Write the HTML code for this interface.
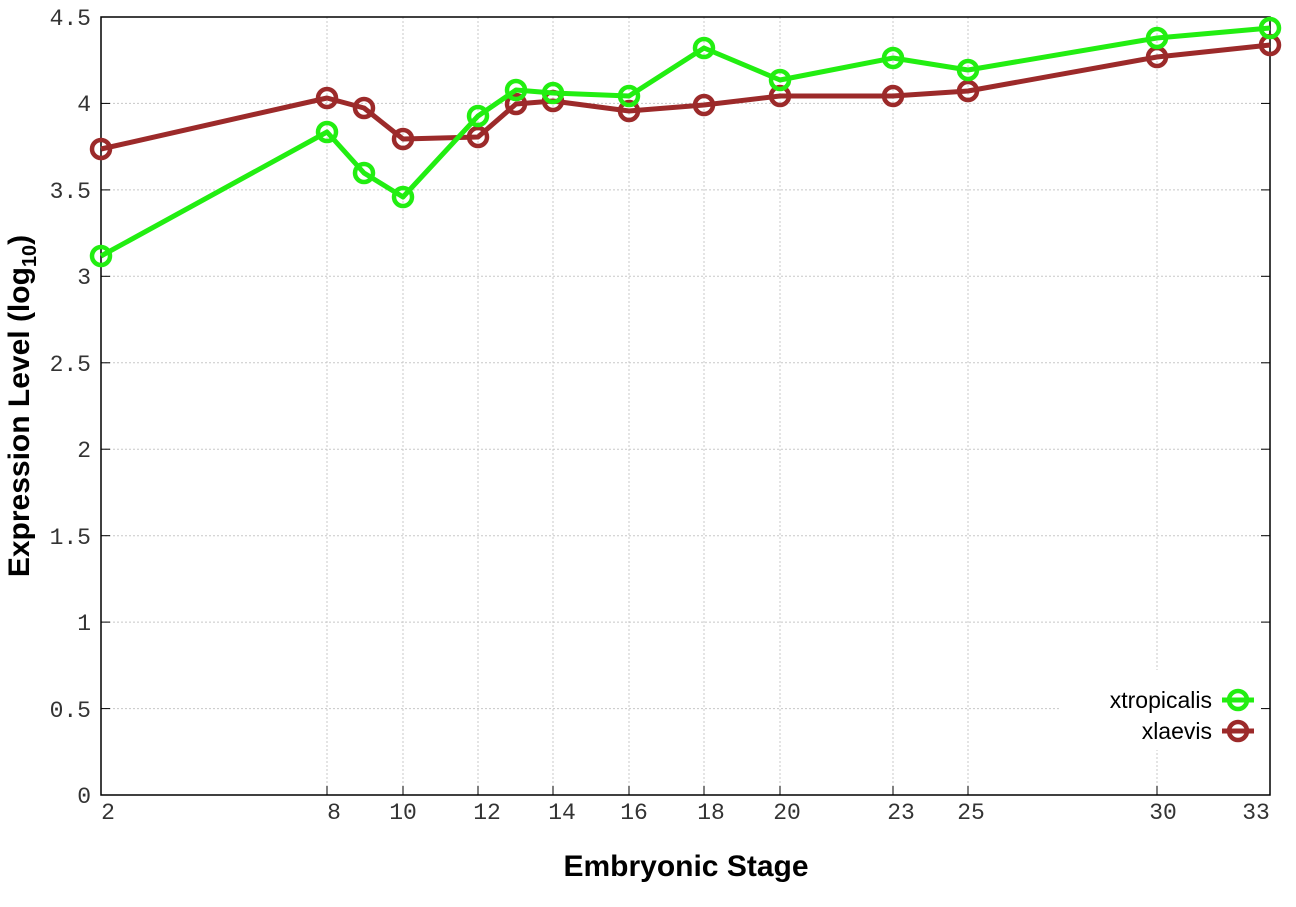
<!DOCTYPE html>
<html><head><style>
body{margin:0;background:#fff}
svg{display:block}
.t{font-family:"Liberation Mono",monospace;font-size:23px;fill:#333}
</style></head><body>
<svg width="1296" height="907" xmlns="http://www.w3.org/2000/svg">
<rect width="1296" height="907" fill="#fff"/>
<g stroke="#c8c8c8" stroke-width="1" stroke-dasharray="2,2">
<line x1="101" x2="1270" y1="708.6" y2="708.6"/><line x1="101" x2="1270" y1="622.1" y2="622.1"/>
<line x1="101" x2="1270" y1="535.7" y2="535.7"/><line x1="101" x2="1270" y1="449.2" y2="449.2"/>
<line x1="101" x2="1270" y1="362.8" y2="362.8"/><line x1="101" x2="1270" y1="276.3" y2="276.3"/>
<line x1="101" x2="1270" y1="189.9" y2="189.9"/><line x1="101" x2="1270" y1="103.4" y2="103.4"/>
<line y1="17" y2="795" x1="327" x2="327"/><line y1="17" y2="795" x1="403" x2="403"/>
<line y1="17" y2="795" x1="478" x2="478"/><line y1="17" y2="795" x1="553" x2="553"/>
<line y1="17" y2="795" x1="629" x2="629"/><line y1="17" y2="795" x1="704" x2="704"/>
<line y1="17" y2="795" x1="780" x2="780"/><line y1="17" y2="795" x1="893" x2="893"/>
<line y1="17" y2="795" x1="968" x2="968"/><line y1="17" y2="795" x1="1157" x2="1157"/>
</g>
<rect x="1060" y="670" width="205" height="80" fill="#fff"/>
<rect x="101" y="17" width="1169" height="778" fill="none" stroke="#000" stroke-width="1.5"/>
<g stroke="#000" stroke-width="1">
<line x1="101" x2="110" y1="708.6" y2="708.6"/><line x1="101" x2="110" y1="622.1" y2="622.1"/><line x1="101" x2="110" y1="535.7" y2="535.7"/><line x1="101" x2="110" y1="449.2" y2="449.2"/><line x1="101" x2="110" y1="362.8" y2="362.8"/><line x1="101" x2="110" y1="276.3" y2="276.3"/><line x1="101" x2="110" y1="189.9" y2="189.9"/><line x1="101" x2="110" y1="103.4" y2="103.4"/>
<line x1="1261" x2="1270" y1="708.6" y2="708.6"/><line x1="1261" x2="1270" y1="622.1" y2="622.1"/><line x1="1261" x2="1270" y1="535.7" y2="535.7"/><line x1="1261" x2="1270" y1="449.2" y2="449.2"/><line x1="1261" x2="1270" y1="362.8" y2="362.8"/><line x1="1261" x2="1270" y1="276.3" y2="276.3"/><line x1="1261" x2="1270" y1="189.9" y2="189.9"/><line x1="1261" x2="1270" y1="103.4" y2="103.4"/>
<line y1="795" y2="786" x1="327" x2="327"/><line y1="795" y2="786" x1="403" x2="403"/><line y1="795" y2="786" x1="478" x2="478"/><line y1="795" y2="786" x1="553" x2="553"/><line y1="795" y2="786" x1="629" x2="629"/><line y1="795" y2="786" x1="704" x2="704"/><line y1="795" y2="786" x1="780" x2="780"/><line y1="795" y2="786" x1="893" x2="893"/><line y1="795" y2="786" x1="968" x2="968"/><line y1="795" y2="786" x1="1157" x2="1157"/>
</g>
<g class="t" text-anchor="end">
<text x="91" y="803">0</text><text x="91" y="717">0.5</text><text x="91" y="630">1</text><text x="91" y="544">1.5</text><text x="91" y="457">2</text><text x="91" y="371">2.5</text><text x="91" y="284">3</text><text x="91" y="198">3.5</text><text x="91" y="111">4</text><text x="91" y="25">4.5</text>
</g>
<g class="t" text-anchor="middle">
<text x="108" y="819">2</text><text x="334" y="819">8</text><text x="403" y="819">10</text><text x="487" y="819">12</text><text x="562" y="819">14</text><text x="634" y="819">16</text><text x="711" y="819">18</text><text x="787" y="819">20</text><text x="901" y="819">23</text><text x="971" y="819">25</text><text x="1163" y="819">30</text><text x="1256" y="819">33</text>
</g>
<text x="686" y="876" text-anchor="middle" font-family="Liberation Sans,sans-serif" font-weight="bold" font-size="30">Embryonic Stage</text>
<text transform="translate(29,406) rotate(-90)" text-anchor="middle" font-family="Liberation Sans,sans-serif" font-weight="bold" font-size="30">Expression Level (log<tspan font-size="20" dy="7">10</tspan><tspan dy="-7">)</tspan></text>
<g fill="none" stroke-width="5" stroke-linejoin="round">
<polyline stroke="#9c2a2a" points="101,149 327,98 364,108 403,139 478,137 516,104 553,101 629,111 704,105 780,96 893,96 968,91 1157,57 1270,45"/>
<g stroke="#9c2a2a" stroke-width="4.5"><circle cx="101" cy="149" r="9"/><circle cx="327" cy="98" r="9"/><circle cx="364" cy="108" r="9"/><circle cx="403" cy="139" r="9"/><circle cx="478" cy="137" r="9"/><circle cx="516" cy="104" r="9"/><circle cx="553" cy="101" r="9"/><circle cx="629" cy="111" r="9"/><circle cx="704" cy="105" r="9"/><circle cx="780" cy="96" r="9"/><circle cx="893" cy="96" r="9"/><circle cx="968" cy="91" r="9"/><circle cx="1157" cy="57" r="9"/><circle cx="1270" cy="45" r="9"/></g>
<polyline stroke="#22ee11" points="101,256 327,132 364,173 403,197 478,116 516,90 553,93 629,96 704,48 780,80 893,58 968,70 1157,38 1270,28"/>
<g stroke="#22ee11" stroke-width="4.5"><circle cx="101" cy="256" r="9"/><circle cx="327" cy="132" r="9"/><circle cx="364" cy="173" r="9"/><circle cx="403" cy="197" r="9"/><circle cx="478" cy="116" r="9"/><circle cx="516" cy="90" r="9"/><circle cx="553" cy="93" r="9"/><circle cx="629" cy="96" r="9"/><circle cx="704" cy="48" r="9"/><circle cx="780" cy="80" r="9"/><circle cx="893" cy="58" r="9"/><circle cx="968" cy="70" r="9"/><circle cx="1157" cy="38" r="9"/><circle cx="1270" cy="28" r="9"/></g>
<line x1="1222" x2="1254" y1="700" y2="700" stroke="#22ee11"/><circle cx="1238" cy="700" r="9" stroke="#22ee11" stroke-width="4.5"/>
<line x1="1222" x2="1254" y1="731" y2="731" stroke="#9c2a2a"/><circle cx="1238" cy="731" r="9" stroke="#9c2a2a" stroke-width="4.5"/>
</g>
<g font-family="Liberation Sans,sans-serif" font-size="23" text-anchor="end" fill="#000">
<text x="1212" y="708">xtropicalis</text><text x="1212" y="739">xlaevis</text>
</g>
</svg>
</body></html>
